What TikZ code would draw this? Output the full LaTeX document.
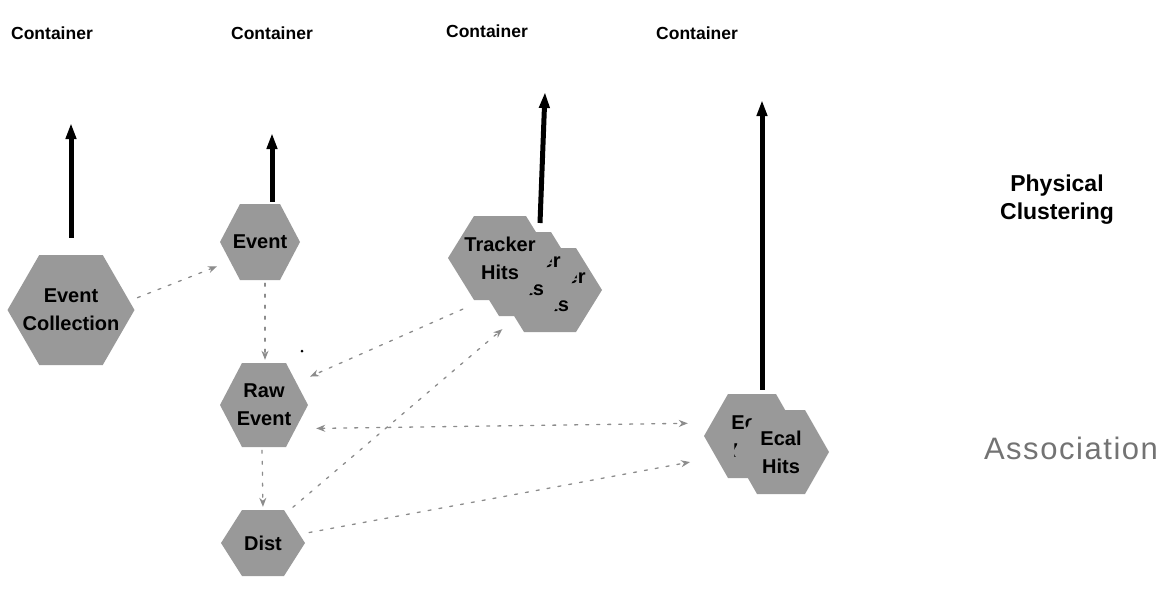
\documentclass[tikz,border=0pt]{standalone}
\usepackage{fontspec}
\setmainfont{Liberation Sans}
\newfontfamily\assocfont[LetterSpace=5]{Liberation Sans}
\usetikzlibrary{arrows.meta}
\tikzset{
  hexfill/.style={fill=black!40},
  hextext/.style={rectangle, inner sep=0pt, align=center,
    font=\fontsize{20}{28}\selectfont\bfseries},
  cont/.style={font=\fontsize{17.5}{18}\selectfont\bfseries},
  strong/.style={line width=5pt, -{Triangle[length=16pt,width=10pt]}},
  assoc/.style={draw=black!45, line width=1.3pt, dash pattern=on 3pt off 8pt, line cap=round},
  ahead/.style={-{Stealth[length=9pt,width=7pt]}},
  bhead/.style={{Stealth[length=9pt,width=7pt]}-{Stealth[length=9pt,width=7pt]}},
}
% #1 name, #2 x, #3 y, #4 width, #5 height, #6 text
\newcommand\hexnode[6]{%
  \fill[hexfill] ({#2-#4/2},#3) -- ({#2-#4/4},{#3-#5/2}) -- ({#2+#4/4},{#3-#5/2})
     -- ({#2+#4/2},#3) -- ({#2+#4/4},{#3+#5/2}) -- ({#2-#4/4},{#3+#5/2}) -- cycle;
  \node[hextext, minimum width=#4pt, minimum height=#5pt] (#1) at (#2,#3) {#6};}
\begin{document}
\begin{tikzpicture}[x=1pt,y=-1pt]
\useasboundingbox (0,0) rectangle (1161,595);
% container labels
\node[cont] (k1) at (52,33) {Container};
\node[cont] (k2) at (272,33) {Container};
\node[cont] (k3) at (487,31) {Container};
\node[cont] (k4) at (697,33) {Container};
\coordinate (c1) at (71,123);
\coordinate (c2) at (272,133);
\coordinate (c3) at (545,92);
\coordinate (c4) at (762,100);
% hexagons
\hexnode{ec}{71}{310}{127}{110}{Event\\Collection}
\hexnode{ev}{260}{242}{80}{76}{Event}
\hexnode{raw}{264}{405}{88}{84}{Raw\\Event}
\hexnode{dist}{263}{543}{84}{66}{Dist}
\hexnode{tr3}{550}{290}{104}{84}{Tracker\\Hits}
\hexnode{tr2}{525}{274}{104}{84}{Tracker\\Hits}
\hexnode{tr1}{500}{258}{104}{84}{Tracker\\Hits}
\hexnode{eb}{752}{436}{96}{84}{Ecal\\Hits}
\hexnode{ef}{781}{452}{96}{84}{Ecal\\Hits}
% side labels
\node[font=\fontsize{23}{28}\selectfont\bfseries, align=center] (pc) at (1057,200) {Physical\\Clustering};
\node[font=\assocfont\fontsize{31}{34}\selectfont, text=black!55] (as) at (1071,448) {Association};
% physical clustering arrows
\draw[strong, shorten <=17pt] (ec.north) -- (c1);
\draw[strong, shorten <=2pt] ([xshift=12pt]ev.north) -- (c2);
\coordinate (s3) at (540,223);
\draw[strong] (s3) -- (c3);
\draw[strong, shorten <=4pt] ([xshift=10pt]eb.north) -- (c4);
% associations
\draw[assoc, ahead, shorten <=3pt, shorten >=3pt] (ec.10) -- (ev.210);
\draw[assoc, ahead, shorten <=3pt, shorten >=3pt] ([xshift=5pt]ev.south) -- ([xshift=1pt]raw.north);
\draw[assoc, ahead, shorten <=3pt, shorten >=3pt] ([xshift=-2pt]raw.south) -- (dist.north);
\draw[assoc, ahead, shorten <=22pt, shorten >=2pt] (tr1.-112) -- (raw.32);
\draw[assoc, ahead, shorten <=4pt, shorten >=20pt] (dist.51) -- (tr2.-100);
\draw[assoc, bhead, shorten <=8pt, shorten >=16pt] (raw.-28) -- (eb.165);
\draw[assoc, ahead, shorten <=4pt, shorten >=14pt] (dist.13) -- (eb.206);
\fill (302,351) circle (1.5pt);
\end{tikzpicture}
\end{document}
